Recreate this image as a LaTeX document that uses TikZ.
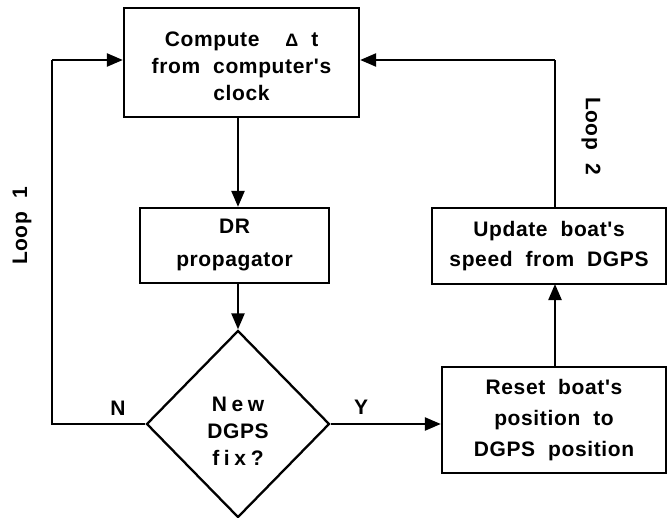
\documentclass[tikz,border=0pt]{standalone}
\usepackage{fontspec}
\newfontfamily\chartfont{Liberation Sans}[LetterSpace=3,WordSpace=2,BoldFont={Liberation Sans Bold}]
\usetikzlibrary{shapes.geometric,arrows.meta}
\newcommand\wide[1]{{\addfontfeature{LetterSpace=22}#1}}
\begin{document}
\begin{tikzpicture}[x=1pt,y=-1pt,
  every node/.style={font=\chartfont\bfseries\fontsize{21}{27}\selectfont, align=center, inner sep=0pt},
  blockbox/.style={draw, line width=2.3pt, rectangle},
  decide/.style={draw, line width=2.3pt, diamond, minimum width=183pt, minimum height=187pt},
  link/.style={line width=2.3pt, -{Triangle[length=16pt,width=13pt]}},
  plain/.style={line width=2.3pt},
  spread/.style={font=\chartfont\bfseries\fontsize{21}{#1}\selectfont}]
\useasboundingbox (0,0) rectangle (668,518);

\node[blockbox, minimum width=235pt, minimum height=109pt] (clock) at (241.5,62.5) {};
\node (clocktext) at (241.5,66)
  {Compute \ {\fontsize{18}{27}\selectfont Δ} t\\from computer's\\clock};
\node[blockbox, spread=33, minimum width=189pt, minimum height=75pt] (dr) at (234.5,245.5)
  {DR\\propagator};
\node[decide] (fix) at (238,424) {};
\node[spread=27] (fixtext) at (238,431) {\wide{New}\\DGPS\\\wide{fix?}};
\node[blockbox, spread=31, minimum width=224pt, minimum height=106pt] (reset) at (554,420)
  {Reset boat's\\position to\\DGPS position};
\node[blockbox, spread=30, minimum width=234pt, minimum height=76pt] (speed) at (549,246)
  {Update boat's\\speed from DGPS};

\coordinate (l1b) at (52,424);
\coordinate (l1t) at (52,60);
\coordinate (l2b) at (555,284);
\coordinate (l2t) at (555,60);

\draw[link] (clock.south -| fix.north) -- (dr.north -| fix.north);
\draw[link] (dr.south -| fix.north) -- (fix.north);
\draw[link] (fix.east) -- (fix.east -| reset.west);
\draw[link] (reset.north -| l2b) -- (l2b);
\draw[plain] (fix.west) -- (l1b) -- (l1t);
\draw[link] (l1t) -- (l1t -| clock.west);
\draw[plain] (speed.north -| l2t) -- (l2t);
\draw[link] (l2t) -- (l2t -| clock.east);

\node (nlab) at (118,408) {N};
\node (ylab) at (361,407) {Y};
\node[rotate=90] (loop1) at (22,226) {Loop 1};
\node[rotate=-90] (loop2) at (591,136) {Loop 2};
\end{tikzpicture}
\end{document}
